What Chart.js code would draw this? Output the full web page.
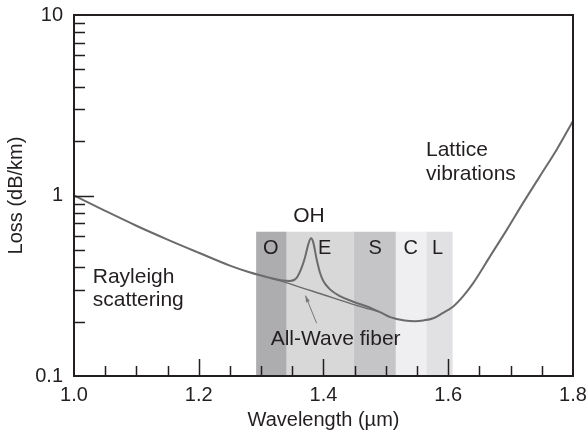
<!DOCTYPE html>
<html>
<head>
<meta charset="utf-8">
<script src="https://cdn.jsdelivr.net/npm/chart.js@4.4.1/dist/chart.umd.min.js"></script>
<style>
  html, body { margin: 0; padding: 0; background: #fff; }
  canvas { display: block; }
</style>
</head>
<body>
<canvas id="lossChart" width="588" height="436"></canvas>
<script>
// Standard fiber loss curve (wavelength in um, loss in dB/km)
const wavelength = [1.00, 1.05, 1.10, 1.15, 1.20, 1.25, 1.28, 1.30, 1.315, 1.335, 1.346, 1.357, 1.365,
  1.3703, 1.3756, 1.38, 1.3837, 1.389, 1.3944, 1.3997, 1.4104, 1.4264, 1.4478, 1.4746, 1.4906, 1.507,
  1.53, 1.547, 1.56, 1.576, 1.59, 1.608, 1.625, 1.64, 1.667, 1.694, 1.72, 1.747, 1.774, 1.80];
const standardLoss = [1.00, 0.822, 0.68, 0.57, 0.482, 0.409, 0.377, 0.360, 0.349, 0.338, 0.336, 0.350, 0.398,
  0.453, 0.536, 0.579, 0.548, 0.443, 0.373, 0.336, 0.302, 0.277, 0.258, 0.239, 0.226, 0.212,
  0.203, 0.201, 0.203, 0.209, 0.222, 0.243, 0.28, 0.327, 0.46, 0.647, 0.91, 1.28, 1.80, 2.59];

// All-Wave fiber branch (no OH peak)
const allWaveWavelength = [1.315, 1.35, 1.40, 1.45, 1.4906];
const allWaveLoss = [0.349, 0.321, 0.282, 0.248, 0.226];

// Telecom bands
const bandNames = ['O', 'E', 'S', 'C', 'L'];
const bandEdges = [1.292, 1.341, 1.449, 1.516, 1.565, 1.607];
const bandLabelX = [1.3155, 1.402, 1.483, 1.540, 1.583];
const bandTop = 0.63;
const bandColors = ['#adadaf', '#d8d8d9', '#c5c5c7', '#efeff1', '#e1e1e3'];

// Axis ticks
const xLabelTicks = [1.0, 1.2, 1.4, 1.6, 1.8];
const xMinorTicks = [1.05, 1.1, 1.15, 1.25, 1.3, 1.35, 1.45, 1.5, 1.55, 1.65, 1.7, 1.75];
const yLabelTicks = [0.1, 1, 10];
const yMinorTicks = [0.2, 0.3, 0.4, 0.5, 0.6, 0.7, 0.8, 0.9, 2, 3, 4, 5, 6, 7, 8, 9];

const textColor = '#231f20';
const curveColor = '#6b6b6b';
const fontFamily = "'Liberation Sans', Arial, Helvetica, sans-serif";

// Text annotations in data coordinates
const notes = [
  { text: 'OH', x: 1.3768, y: 0.764, align: 'center' },
  { text: 'Rayleigh', x: 1.030, y: 0.352, align: 'left' },
  { text: 'scattering', x: 1.030, y: 0.262, align: 'left' },
  { text: 'Lattice', x: 1.5643, y: 1.78, align: 'left' },
  { text: 'vibrations', x: 1.5643, y: 1.308, align: 'left' },
  { text: 'All-Wave fiber', x: 1.3153, y: 0.160, align: 'left' },
];
const arrowFrom = { x: 1.389, y: 0.196 };
const arrowTo = { x: 1.371, y: 0.279 };

const toPoints = (xs, ys) => xs.map((v, i) => ({ x: v, y: ys[i] }));

const figurePlugin = {
  id: 'figure',
  beforeDatasetsDraw(chart) {
    const { ctx, chartArea, scales: { x, y } } = chart;
    const top = y.getPixelForValue(bandTop);
    ctx.save();
    bandNames.forEach((name, i) => {
      const left = x.getPixelForValue(bandEdges[i]);
      const right = x.getPixelForValue(bandEdges[i + 1]);
      ctx.fillStyle = bandColors[i];
      ctx.fillRect(left, top, right - left, chartArea.bottom - top);
    });
    ctx.restore();
  },
  afterDatasetsDraw(chart) {
    const { ctx, chartArea, scales: { x, y } } = chart;
    ctx.save();

    // frame
    ctx.strokeStyle = textColor;
    ctx.lineWidth = 2;
    ctx.strokeRect(chartArea.left, chartArea.top, chartArea.right - chartArea.left, chartArea.bottom - chartArea.top);

    // inside tick marks
    ctx.lineWidth = 1.5;
    ctx.beginPath();
    yMinorTicks.forEach(v => {
      const py = Math.round(y.getPixelForValue(v)) + 0.5;
      ctx.moveTo(chartArea.left, py);
      ctx.lineTo(chartArea.left + 11, py);
    });
    const py1 = Math.round(y.getPixelForValue(1)) + 0.5;
    ctx.moveTo(chartArea.left, py1);
    ctx.lineTo(chartArea.left + 20, py1);
    xMinorTicks.forEach(v => {
      const px = Math.round(x.getPixelForValue(v)) + 0.5;
      ctx.moveTo(px, chartArea.bottom);
      ctx.lineTo(px, chartArea.bottom - 10);
    });
    xLabelTicks.slice(1, -1).forEach(v => {
      const px = Math.round(x.getPixelForValue(v)) + 0.5;
      ctx.moveTo(px, chartArea.bottom);
      ctx.lineTo(px, chartArea.bottom - 17);
    });
    ctx.stroke();

    // band letters
    ctx.fillStyle = textColor;
    ctx.font = '20px ' + fontFamily;
    ctx.textAlign = 'center';
    ctx.textBaseline = 'middle';
    bandNames.forEach((name, i) => {
      ctx.fillText(name, x.getPixelForValue(bandLabelX[i]), y.getPixelForValue(0.507));
    });

    // annotations
    ctx.font = '21px ' + fontFamily;
    notes.forEach(n => {
      ctx.textAlign = n.align;
      ctx.fillText(n.text, x.getPixelForValue(n.x), y.getPixelForValue(n.y));
    });

    // arrow to the All-Wave curve
    const ax0 = x.getPixelForValue(arrowFrom.x), ay0 = y.getPixelForValue(arrowFrom.y);
    const ax1 = x.getPixelForValue(arrowTo.x), ay1 = y.getPixelForValue(arrowTo.y);
    const ang = Math.atan2(ay1 - ay0, ax1 - ax0);
    ctx.strokeStyle = '#777';
    ctx.fillStyle = '#777';
    ctx.lineWidth = 1;
    ctx.beginPath();
    ctx.moveTo(ax0, ay0);
    ctx.lineTo(ax1, ay1);
    ctx.stroke();
    ctx.beginPath();
    ctx.moveTo(ax1, ay1);
    ctx.lineTo(ax1 - 7 * Math.cos(ang - 0.3), ay1 - 7 * Math.sin(ang - 0.3));
    ctx.lineTo(ax1 - 7 * Math.cos(ang + 0.3), ay1 - 7 * Math.sin(ang + 0.3));
    ctx.closePath();
    ctx.fill();

    ctx.restore();
  }
};

Chart.defaults.font.family = fontFamily;
Chart.defaults.color = textColor;

new Chart(document.getElementById('lossChart'), {
  type: 'line',
  data: {
    datasets: [
      {
        label: 'Standard fiber',
        data: toPoints(wavelength, standardLoss),
        borderColor: curveColor,
        borderWidth: 2,
        pointRadius: 0,
        cubicInterpolationMode: 'monotone',
      },
      {
        label: 'All-Wave fiber',
        data: toPoints(allWaveWavelength, allWaveLoss),
        borderColor: curveColor,
        borderWidth: 1.4,
        pointRadius: 0,
        cubicInterpolationMode: 'monotone',
      },
    ],
  },
  options: {
    responsive: false,
    animation: false,
    devicePixelRatio: 1,
    layout: { padding: { top: 15, right: 15, left: 0, bottom: 0 } },
    plugins: {
      legend: { display: false },
      tooltip: { enabled: false },
    },
    scales: {
      x: {
        type: 'linear',
        min: 1.0,
        max: 1.8,
        grid: { display: false, drawTicks: false },
        border: { display: false },
        afterBuildTicks: s => { s.ticks = xLabelTicks.map(v => ({ value: v })); },
        afterFit: s => { s.height = 60; s.paddingLeft = 0; s.paddingRight = 0; },
        ticks: {
          font: { size: 20 },
          padding: 7,
          maxRotation: 0,
          autoSkip: false,
          callback: v => v.toFixed(1),
        },
        title: {
          display: true,
          text: 'Wavelength (\u00b5m)',
          font: { size: 20 },
          padding: { top: 0, bottom: 4 },
        },
      },
      y: {
        type: 'logarithmic',
        min: 0.1,
        max: 10,
        grid: { display: false, drawTicks: false },
        border: { display: false },
        afterBuildTicks: s => { s.ticks = yLabelTicks.map(v => ({ value: v })); },
        afterFit: s => { s.width = 74; s.paddingTop = 0; s.paddingBottom = 0; },
        ticks: {
          font: { size: 20 },
          padding: 11,
          autoSkip: false,
          callback: v => String(v),
        },
        title: {
          display: true,
          text: 'Loss (dB/km)',
          font: { size: 20 },
          padding: { top: 4, bottom: 0 },
        },
      },
    },
  },
  plugins: [figurePlugin],
});
</script>
</body>
</html>
